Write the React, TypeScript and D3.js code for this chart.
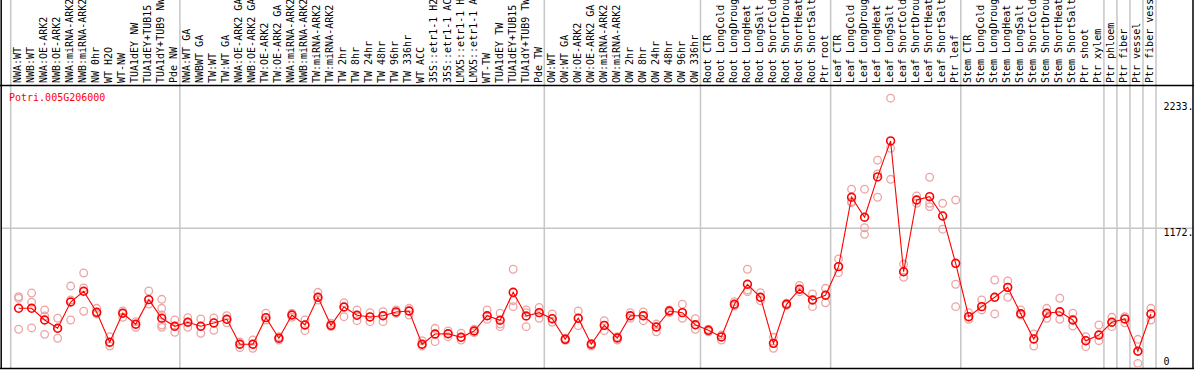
import React from "react";
import * as d3 from "d3";

const geneName = "Potri.005G206000";

const categories = [
  "NWA:WT", "NWB:WT", "NWA:OE-ARK2", "NWB:OE-ARK2", "NWA:miRNA-ARK2", "NWB:miRNA-ARK2",
  "NW 0hr", "WT H2O", "WT-NW", "TUA1dEY NW", "TUA1dEY+TUB15 NW", "TUA1dY+TUB9 NW", "Pde NW",
  "NWA:WT GA", "NWBWT GA", "TW:WT", "TW:WT GA", "NWA:OE-ARK2 GA", "NWB:OE-ARK2 GA",
  "TW:OE-ARK2", "TW:OE-ARK2 GA", "NWA:miRNA-ARK2 GA", "NWB:miRNA-ARK2 GA", "TW:miRNA-ARK2",
  "TW:miRNA-ARK2 GA", "TW 2hr", "TW 8hr", "TW 24hr", "TW 48hr", "TW 96hr", "TW 336hr",
  "WT ACC", "35S::etr1-1 H2O", "35S::etr1-1 ACC", "LMX5::etr1-1 H2O", "LMX5::etr1-1 ACC",
  "WT-TW", "TUA1dEY TW", "TUA1dEY+TUB15 TW", "TUA1dY+TUB9 TW", "Pde TW",
  "OW:WT", "OW:WT GA", "OW:OE-ARK2", "OW:OE-ARK2 GA", "OW:miRNA-ARK2", "OW:miRNA-ARK2 GA",
  "OW 2hr", "OW 8hr", "OW 24hr", "OW 48hr", "OW 96hr", "OW 336hr",
  "Root CTR", "Root LongCold", "Root LongDrought", "Root LongHeat", "Root LongSalt",
  "Root ShortCold", "Root ShortDrought", "Root ShortHeat", "Root ShortSalt", "Ptr root",
  "Leaf CTR", "Leaf LongCold", "Leaf LongDrought", "Leaf LongHeat", "Leaf LongSalt",
  "Leaf ShortCold", "Leaf ShortDrought", "Leaf ShortHeat", "Leaf ShortSalt", "Ptr leaf",
  "Stem CTR", "Stem LongCold", "Stem LongDrought", "Stem LongHeat", "Stem LongSalt",
  "Stem ShortCold", "Stem ShortDrought", "Stem ShortHeat", "Stem ShortSalt", "Ptr shoot",
  "Ptr xylem", "Ptr phloem", "Ptr fiber", "Ptr vessel", "Ptr fiber vessel",
];

// group sizes (columns between gray separators)
const groupSizes = [13, 28, 12, 10, 10, 11, 1, 1, 1, 1];

const meanValues = [
  496, 496, 397, 327, 549, 640, 462, 209, 454, 361, 569, 412, 344,
  378, 344, 372, 403, 192, 192, 417, 243, 439, 355, 589, 352, 507, 437, 423, 433, 465, 473,
  192, 279, 281, 251, 304, 433, 395, 631, 431, 459,
  408, 234, 412, 192, 352, 245, 433, 433, 338, 473, 459, 357,
  310, 254, 530, 699, 589, 200, 530, 657, 566, 606,
  848, 1434, 1265, 1606, 1910, 805, 1411, 1439, 1276, 876,
  425, 510, 589, 673, 450, 237, 454, 467, 397, 222, 270,
  378, 406, 133, 448,
];

const replicateValues = [
  [594, 581, 319], [625, 547, 330], [482, 431, 276], [412, 326, 243], [684, 566, 397],
  [794, 668, 471], [496, 448, 462], [256, 177, 209], [420, 473, 454], [383, 335, 361],
  [642, 532, 569], [572, 496, 439, 355, 335], [397, 293, 344],
  [417, 335, 378], [406, 285, 344], [414, 310, 372], [433, 374, 403], [211, 163, 192],
  [228, 158, 192], [454, 397, 417], [256, 228, 243], [454, 420, 439], [397, 307, 355],
  [631, 566, 589], [369, 341, 352], [543, 425, 507], [482, 391, 437], [459, 383, 423],
  [467, 383, 433], [482, 454, 465], [496, 439, 473],
  [222, 177, 192], [327, 214, 279], [304, 256, 281], [285, 228, 251], [319, 290, 304],
  [482, 403, 433], [454, 363, 341], [826, 560, 510], [482, 459, 341], [504, 412, 459],
  [448, 378, 408], [243, 226, 234], [473, 349, 412], [200, 177, 192], [391, 307, 352],
  [256, 228, 245], [459, 412, 433], [465, 391, 433], [363, 298, 338], [482, 459, 473],
  [530, 412, 459], [408, 319, 357],
  [319, 298, 310], [270, 228, 254], [552, 515, 530], [826, 651, 636], [628, 560, 589],
  [251, 158, 200], [538, 521, 530], [690, 636, 657], [617, 510, 566], [665, 543, 606],
  [913, 797, 848], [1502, 1397, 1388], [1502, 1177, 1121], [1747, 1631, 1434],
  [2271, 1848, 1586], [870, 758, 805], [1445, 1383, 1411], [1603, 1383, 1355],
  [1383, 1164, 1276], [1411, 699, 510],
  [459, 403, 425], [566, 482, 510], [735, 448, 589], [727, 589, 673], [482, 439, 450],
  [279, 177, 237], [496, 412, 454], [581, 403, 467], [454, 346, 397], [256, 172, 222],
  [355, 222, 270],
  [420, 341, 378], [425, 374, 406], [234, 31, 133], [496, 397, 448],
];

const tickValues = [0, 1172, 2233];
const tickLabels = ["0", "1172.", "2233."];

const W = 1194;
const H = 370;
const FONT = "'DejaVu Sans Mono', monospace";

export default function App() {
  const x = d3.scaleBand<string>().domain(categories).range([10.7, 1156]).paddingInner(0).paddingOuter(0);
  const bw = x.bandwidth();
  const cx = (c: string) => (x(c) as number) + bw / 2 + 1.4;
  const y = d3.scaleLinear().domain([0, 2233]).range([367, 102.7]);

  const line = d3
    .line<number>()
    .x((_, i) => cx(categories[i]))
    .y((d) => y(d));

  // separator positions
  const bounds: number[] = [0];
  groupSizes.forEach((s) => bounds.push(bounds[bounds.length - 1] + s));
  const sepX = bounds.map((b) => (b < categories.length ? (x(categories[b]) as number) : (x(categories[categories.length - 1]) as number) + bw));

  const gray = "#c6c6c6";
  const pink = "#eda3a3";
  const red = "#ff0000";

  return (
    <svg
      width={W}
      height={H}
      style={{ position: "absolute", left: 0, top: 0, background: "#fff" }}
      fontFamily={FONT}
    >
      <rect x={0} y={0} width={W} height={H} fill="#fff" />
      {/* gray separators */}
      {sepX.map((sx, i) => (
        <line key={"s" + i} x1={sx} x2={sx} y1={0} y2={368} stroke={gray} strokeWidth={1.5} />
      ))}
      {/* gridline */}
      <line x1={1} x2={1193} y1={y(1172)} y2={y(1172)} stroke={gray} strokeWidth={1.5} />
      {/* borders */}
      <line x1={0} x2={W} y1={85.5} y2={85.5} stroke="#000" strokeWidth={1.5} />
      <line x1={1.2} x2={1.2} y1={0} y2={369} stroke="#000" strokeWidth={1.5} />
      <line x1={1193} x2={1193} y1={0} y2={369} stroke="#000" strokeWidth={1.5} />
      <line x1={0} x2={W} y1={368.4} y2={368.4} stroke="#000" strokeWidth={1.5} />

      {/* column labels */}
      {categories.map((c) => (
        <text
          key={"l" + c}
          transform={`translate(${cx(c) - 1.2},83) rotate(-90)`}
          dy="0.36em"
          fontSize={10}
          fill="#000"
        >
          {c}
        </text>
      ))}

      {/* gene name */}
      <text x={9} y={100.8} fontSize={10} fill={red}>
        {geneName}
      </text>

      {/* y tick labels */}
      {tickValues.map((v, i) => (
        <text key={"t" + i} x={1163.5} y={Math.min(y(v) + 7.4, 365.2)} fontSize={10} fill="#000">
          {tickLabels[i]}
        </text>
      ))}

      {/* replicate points */}
      {replicateValues.map((reps, i) =>
        reps.map((v, j) => (
          <circle
            key={`r${i}-${j}`}
            cx={cx(categories[i])}
            cy={y(v)}
            r={3.8}
            fill="none"
            stroke={pink}
            strokeWidth={1.3}
          />
        ))
      )}

      {/* mean line */}
      <path d={line(meanValues) || ""} fill="none" stroke={red} strokeWidth={1.1} />

      {/* mean points */}
      {meanValues.map((v, i) => (
        <circle
          key={"m" + i}
          cx={cx(categories[i])}
          cy={y(v)}
          r={3.9}
          fill="none"
          stroke={red}
          strokeWidth={1.6}
        />
      ))}
    </svg>
  );
}
